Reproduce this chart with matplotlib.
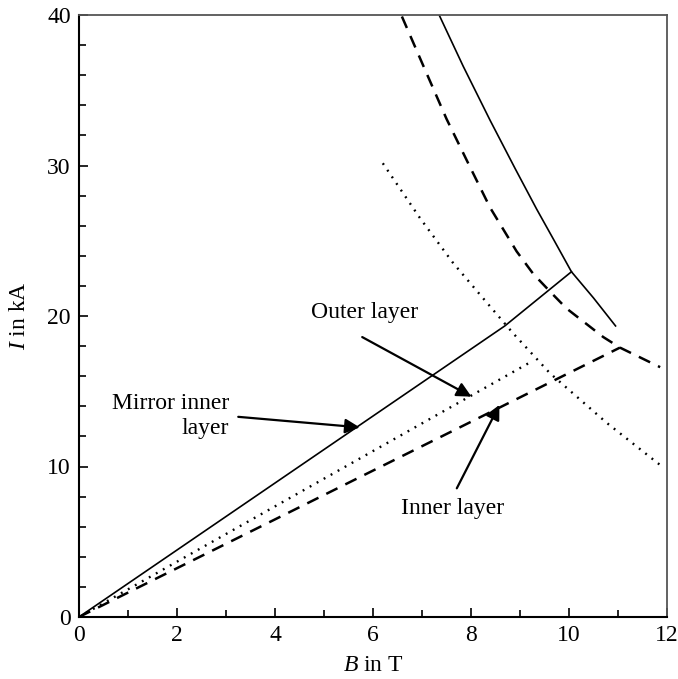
import matplotlib
matplotlib.use("Agg")
import matplotlib.pyplot as plt

plt.rcParams['font.family'] = ['Liberation Serif', 'DejaVu Serif']
plt.rcParams['mathtext.fontset'] = 'custom'
plt.rcParams['mathtext.it'] = 'Liberation Serif:italic'
plt.rcParams['mathtext.rm'] = 'Liberation Serif'

# load lines (B in T, I in kA)
mirror_load_B = [0.0, 8.69, 10.05]
mirror_load_I = [0.0, 19.34, 22.94]
outer_load_B = [0.0, 9.25]
outer_load_I = [0.0, 17.0]
inner_load_B = [0.0, 11.04]
inner_load_I = [0.0, 17.9]

# critical current curves
mirror_crit_B = [7.35, 7.84, 8.39, 8.9, 9.34, 9.7, 10.05, 10.5, 10.95]
mirror_crit_I = [40.0, 36.6, 33.0, 29.8, 27.1, 25.0, 22.94, 21.2, 19.34]
inner_crit_B = [6.59, 7.03, 7.5, 7.95, 8.39, 8.93, 9.27, 9.65, 9.95, 10.7, 11.04, 11.86]
inner_crit_I = [39.9, 36.6, 33.1, 30.1, 27.2, 24.3, 22.8, 21.5, 20.5, 18.6, 17.9, 16.6]
outer_crit_B = [6.20, 6.96, 7.64, 8.32, 8.86, 9.61, 10.77, 11.86]
outer_crit_I = [30.15, 26.5, 23.5, 20.9, 18.85, 16.2, 12.9, 10.1]

fig = plt.figure(figsize=(6.78, 6.79), dpi=100)
ax = fig.add_axes([79/678, 1-617/679, 588/678, 602/679])

ax.plot(mirror_load_B, mirror_load_I, color='black', lw=1.2)
ax.plot(mirror_crit_B, mirror_crit_I, color='black', lw=1.2)
ax.plot(outer_load_B, outer_load_I, color='black', lw=1.7, linestyle=(0, (0.8, 2.6)))
ax.plot(outer_crit_B, outer_crit_I, color='black', lw=1.7, linestyle=(0, (0.8, 2.6)))
ax.plot(inner_load_B, inner_load_I, color='black', lw=1.8, linestyle=(0, (5, 3.5)))
ax.plot(inner_crit_B, inner_crit_I, color='black', lw=1.8, linestyle=(0, (5, 3.5)))

arrow = dict(arrowstyle='-|>', mutation_scale=22, lw=1.6, color='black',
             shrinkA=0, shrinkB=0)
ax.text(5.82, 20.2, 'Outer layer', ha='center', va='center', fontsize=17)
ax.annotate('', xy=(8.01, 14.64), xytext=(5.78, 18.6), arrowprops=arrow)
ax.text(3.06, 13.35, 'Mirror inner\nlayer', ha='right', va='center',
        fontsize=17, linespacing=1.3)
ax.annotate('', xy=(5.73, 12.6), xytext=(3.25, 13.3), arrowprops=arrow)
ax.text(7.63, 7.2, 'Inner layer', ha='center', va='center', fontsize=17)
ax.annotate('', xy=(8.58, 14.09), xytext=(7.71, 8.55), arrowprops=arrow)

ax.set_xlim(0, 12)
ax.set_ylim(0, 40)
ax.set_xticks(range(0, 13, 2))
ax.set_xticks(range(0, 13, 1), minor=True)
ax.set_yticks(range(0, 41, 10))
ax.set_yticks(range(0, 41, 2), minor=True)
ax.tick_params(which='both', direction='in', labelsize=17, width=1.2)
ax.tick_params(which='major', length=6.5, pad=6)
ax.tick_params(which='minor', length=5)

for s in ['left', 'bottom']:
    ax.spines[s].set_linewidth(1.5)
    ax.spines[s].set_color('black')
for s in ['top', 'right']:
    ax.spines[s].set_linewidth(1.3)
    ax.spines[s].set_color('#555555')

ax.set_xlabel('$B$ in T', fontsize=17, labelpad=6)
ax.set_ylabel('$I$ in kA', fontsize=17, labelpad=12)

fig.savefig('out.png', dpi=100)
